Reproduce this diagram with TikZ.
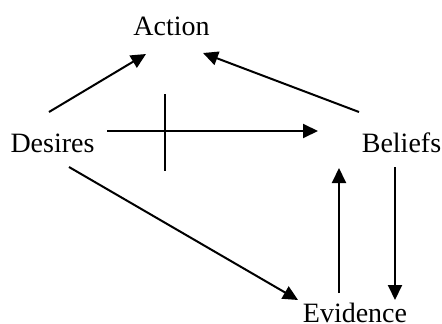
\documentclass[tikz,border=0pt]{standalone}
\usepackage{fontspec}
\setmainfont{Liberation Serif}
\usetikzlibrary{arrows.meta}
\tikzset{
  arr/.style = {-{Triangle[length=15pt,width=14pt]}, line width=2pt},
  word/.style = {anchor=base, inner sep=0pt, font=\fontsize{28}{34}\selectfont}
}
\begin{document}
\begin{tikzpicture}[x=1pt, y=-1pt]
      \useasboundingbox (0,0) rectangle (442,324);
      \node at (171.5,35) [word] (action)   {Action};
      \node at (52.5,152) [word] (desires)  {Desires};
      \node at (401.5,152) [word] (beliefs) {Beliefs};
      \node at (355,322) [word] (evidence)  {Evidence};
      \draw[arr] ([shift={(-3.5,-40)}]desires.base) -- ([shift={(-25.5,19)}]action.base);
      \draw[arr] ([shift={(-42.5,-40)}]beliefs.base) -- ([shift={(31.5,18)}]action.base);
      \draw[arr] ([shift={(54.5,-21)}]desires.base) -- coordinate[pos=0.275] (cut) ([shift={(-83.5,-21)}]beliefs.base);
      \draw[line width=2pt] (cut) ++(0,-37) -- ++(0,77);
      \draw[arr] ([shift={(16.5,15)}]desires.base) -- ([shift={(-57,-22)}]evidence.base);
      \draw[arr] ([shift={(-16,-29)}]evidence.base) -- ([shift={(-62.5,16)}]beliefs.base);
      \draw[arr] ([shift={(-6.5,15)}]beliefs.base) -- ([shift={(40,-22)}]evidence.base);
      % \node at (165,131) {\small cut};
\end{tikzpicture}
\end{document}
